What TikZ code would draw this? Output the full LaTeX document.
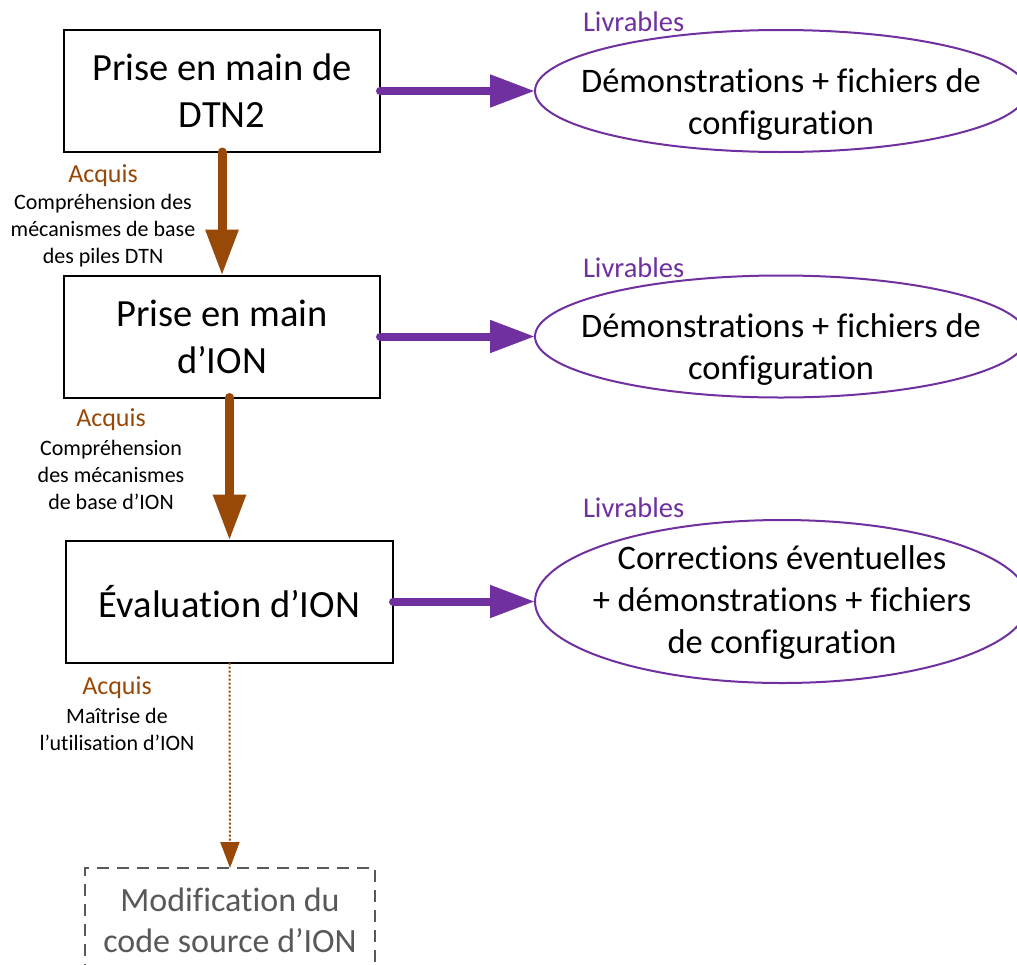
\documentclass[tikz,border=0pt]{standalone}
\usepackage{fontspec}
\setmainfont{Carlito}[Ligatures=CommonOff]
\usetikzlibrary{shapes.geometric,arrows.meta}
\definecolor{brn}{HTML}{984807}
\definecolor{purp}{HTML}{7030A0}
\definecolor{gry}{HTML}{595959}
\begin{document}
\begin{tikzpicture}[x=1pt, y=-1pt,
  task/.style={draw, line width=2pt, fill=white, minimum width=316pt, minimum height=122pt, align=center, font=\fontsize{38.5}{47}\selectfont},
  deliv/.style={ellipse, draw=purp, line width=2pt, fill=white, minimum width=492pt, minimum height=122pt},
  dtext/.style={align=center, font=\fontsize{34.4}{42}\selectfont},
  tag/.style={font=\fontsize{26}{30}\selectfont},
  gain/.style={align=center, font=\fontsize{22}{27}\selectfont},
  flow/.style={draw=brn, line width=9pt, line cap=round, -{Triangle[length=46pt,width=31pt]}},
  give/.style={draw=purp, line width=8pt, line cap=round, -{Triangle[length=45pt,width=31pt]}},
  later/.style={draw=brn, line width=2pt, dotted, -{Triangle[length=26pt,width=19pt]}}]
\tikzstyle{every node}=[inner sep=0pt, outer sep=0pt]
\useasboundingbox (0,0) rectangle (1017,964);
\node[task](b1) at (222,91) {Prise en main de\\DTN2};
\node[task](b2) at (222,336.5) {Prise en main\\d’ION};
\node[task,minimum width=327pt](b3) at (229.5,601.5) {Évaluation d’ION};
\node[task,draw=gry,text=gry,dash pattern=on 12pt off 8pt,minimum width=290pt,minimum height=104pt,font=\fontsize{34}{41}\selectfont](b4) at (230,920) {Modification du\\code source d’ION};
\node[deliv](e1) at (781,91) {};
\node[dtext](t1) at (781,105) {Démonstrations + fichiers de\\configuration};
\node[deliv](e2) at (781,336.5) {};
\node[dtext](t2) at (781,350) {Démonstrations + fichiers de\\configuration};
\node[deliv,minimum width=494pt,minimum height=163pt](e3) at (782,601.5) {};
\node[dtext](t3) at (782,603) {Corrections éventuelles\\+ démonstrations + fichiers\\de configuration};
\node[tag,text=purp,anchor=west,font=\fontsize{28.5}{32}\selectfont](l1) at (583,22) {Livrables};
\node[tag,text=purp,anchor=west,font=\fontsize{28.5}{32}\selectfont](l2) at (583,268) {Livrables};
\node[tag,text=purp,anchor=west,font=\fontsize{28.5}{32}\selectfont](l3) at (583,508) {Livrables};
\node[tag,text=brn](a1) at (103,176) {Acquis};
\node[gain](g1) at (103,231) {Compréhension des\\mécanismes de base\\des piles DTN};
\node[tag,text=brn](a2) at (111,420) {Acquis};
\node[gain](g2) at (111,475) {Compréhension\\des mécanismes\\de base d’ION};
\node[tag,text=brn](a3) at (117,688) {Acquis};
\node[gain](g3) at (117,729) {Maîtrise de\\l’utilisation d’ION};
\draw[flow] (b1.south) -- (b2.north);
\draw[flow] (b3.north |- b2.south) -- (b3.north);
\draw[later] (b3.south) -- (b4.north);
\draw[give] (b1.east) -- (e1.west);
\draw[give] (b2.east) -- (e2.west);
\draw[give] (b3.east) -- (e3.west);
\end{tikzpicture}
\end{document}
